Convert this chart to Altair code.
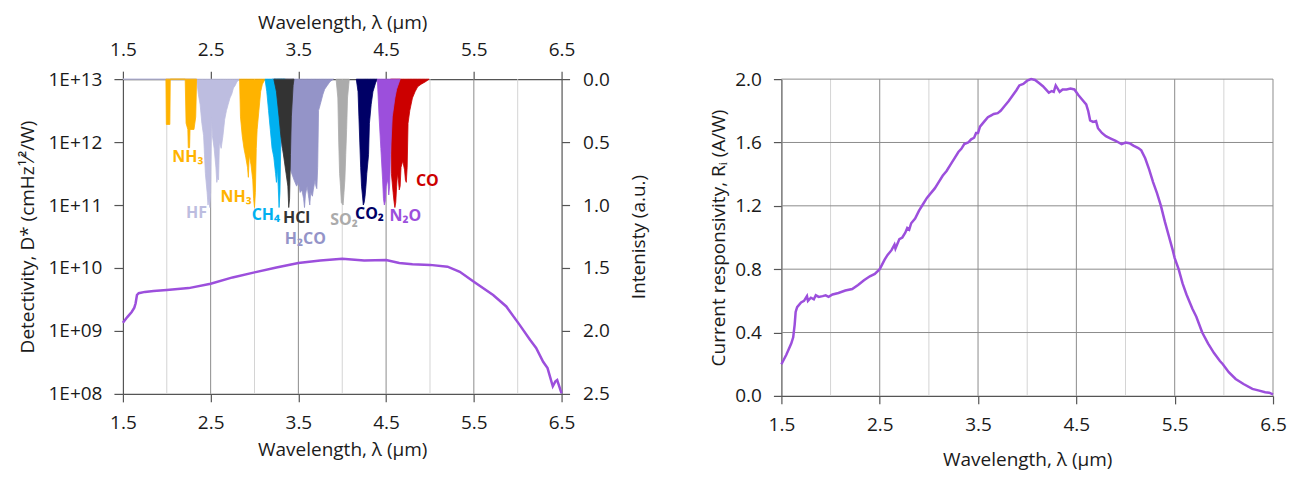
import altair as alt
import pandas as pd

FONT = "Open Sans"
PURPLE = "#9c4fdc"
DARK_GRID = "#8c8c8c"
LIGHT_GRID = "#d4d4d4"
AXIS_COL = "#555555"
TEXT_COL = "#1a1a1a"

# ---------- axis ticks / grid ----------
TICKS_X = [1.5, 2.5, 3.5, 4.5, 5.5, 6.5]
GRID_DARK = [2.5, 3.5, 4.5, 5.5]
GRID_LIGHT = [2.0, 3.0, 4.0, 5.0, 6.0]
D_TICKS = [1e8, 1e9, 1e10, 1e11, 1e12, 1e13]
INT_TICKS = [0.0, 0.5, 1.0, 1.5, 2.0, 2.5]
R_TICKS = [0.0, 0.4, 0.8, 1.2, 1.6, 2.0]
RIGHT_EDGE = [6.5]

# ---------- detectivity D* (left panel) ----------
DET_LAM = [1.50, 1.55, 1.60, 1.63, 1.645, 1.66, 1.68, 1.75, 1.85, 2.00, 2.25, 2.50, 2.75,
           3.00, 3.25, 3.50, 3.75, 4.00, 4.25, 4.50, 4.65, 4.80, 5.00, 5.20, 5.34, 5.50,
           5.72, 5.87, 6.02, 6.14, 6.21, 6.29, 6.34, 6.40, 6.43, 6.45, 6.50]
DET_VAL = [1.35e9, 1.66e9, 2.0e9, 2.34e9, 2.75e9, 3.72e9, 3.98e9, 4.17e9, 4.32e9, 4.47e9,
           4.79e9, 5.62e9, 7.08e9, 8.51e9, 1.02e10, 1.20e10, 1.32e10, 1.40e10, 1.32e10,
           1.34e10, 1.20e10, 1.15e10, 1.12e10, 1.05e10, 8.71e9, 6.03e9, 3.72e9, 2.45e9,
           1.26e9, 7.24e8, 5.37e8, 3.24e8, 2.57e8, 1.32e8, 1.58e8, 1.66e8, 1.02e8]

# ---------- gas absorption spectra (wavelength, intensity) ----------
CO = [(4.55, 0), (4.56, 0.75), (4.58, 0.9), (4.59, 0.97), (4.60, 1.02), (4.61, 0.98),
      (4.62, 0.85), (4.63, 0.75), (4.64, 0.8), (4.65, 0.88), (4.66, 0.85), (4.67, 0.7),
      (4.69, 0.65), (4.71, 0.72), (4.72, 0.8), (4.73, 0.82), (4.74, 0.7), (4.75, 0.35),
      (4.77, 0.25), (4.80, 0.15), (4.83, 0.1), (4.86, 0.06), (4.90, 0.04), (4.95, 0.02),
      (4.99, 0)]
HF = [(1.5, 0), (2.34, 0), (2.36, 0.12), (2.38, 0.2), (2.40, 0.35), (2.42, 0.45), (2.43, 0.6),
      (2.44, 0.75), (2.46, 0.9), (2.47, 1.0), (2.48, 0.95), (2.49, 1.02), (2.50, 0.9),
      (2.51, 0.3), (2.52, 0.45), (2.54, 0.55), (2.56, 0.7), (2.57, 0.82), (2.58, 0.78),
      (2.59, 0.8), (2.60, 0.5), (2.62, 0.55), (2.64, 0.45), (2.66, 0.32), (2.68, 0.25),
      (2.70, 0.2), (2.72, 0.15), (2.74, 0.12), (2.76, 0.07), (2.78, 0.05), (2.80, 0.02),
      (2.83, 0)]
NH3_A = [(1.99, 0), (1.995, 0.36), (2.035, 0.36), (2.04, 0), (2.21, 0), (2.22, 0.35),
         (2.24, 0.4), (2.245, 0.545), (2.26, 0.545), (2.265, 0.4), (2.31, 0.4), (2.33, 0.3),
         (2.34, 0)]
NH3_B = [(2.83, 0), (2.84, 0.3), (2.86, 0.45), (2.88, 0.55), (2.90, 0.62), (2.92, 0.7),
         (2.93, 0.78), (2.94, 0.6), (2.96, 0.68), (2.98, 0.8), (2.99, 0.95), (3.00, 1.02),
         (3.01, 0.9), (3.02, 0.55), (3.03, 0.4), (3.05, 0.25), (3.07, 0.1), (3.09, 0.04),
         (3.12, 0)]
H2CO = [(3.20, 0), (3.25, 0.3), (3.30, 0.5), (3.35, 0.65), (3.40, 0.7), (3.45, 0.8),
        (3.48, 0.85), (3.50, 0.82), (3.52, 0.9), (3.54, 0.88), (3.56, 0.95), (3.57, 1.02),
        (3.58, 0.92), (3.60, 0.85), (3.62, 0.95), (3.63, 1.0), (3.64, 0.9), (3.66, 0.93),
        (3.67, 0.88), (3.69, 0.8), (3.70, 0.85), (3.71, 0.87), (3.72, 0.7), (3.73, 0.25),
        (3.75, 0.2), (3.78, 0.12), (3.80, 0.08), (3.83, 0.05), (3.86, 0.02), (3.90, 0)]
CH4 = [(3.12, 0), (3.14, 0.1), (3.16, 0.25), (3.18, 0.4), (3.20, 0.55), (3.22, 0.62),
       (3.24, 0.75), (3.25, 0.82), (3.26, 0.7), (3.27, 0.85), (3.28, 1.02), (3.29, 0.9),
       (3.30, 0.5), (3.32, 0.2), (3.34, 0.05), (3.35, 0)]
HCL = [(3.22, 0), (3.25, 0.1), (3.28, 0.3), (3.30, 0.45), (3.32, 0.55), (3.34, 0.65),
       (3.36, 0.75), (3.38, 0.85), (3.39, 1.02), (3.40, 0.95), (3.41, 0.6), (3.42, 0.3),
       (3.44, 0.05), (3.45, 0)]
SO2 = [(3.93, 0), (3.95, 0.15), (3.96, 0.5), (3.97, 0.75), (3.98, 0.85), (3.99, 0.98),
       (4.01, 1.0), (4.02, 0.9), (4.03, 0.8), (4.04, 0.6), (4.05, 0.4), (4.06, 0.15),
       (4.08, 0)]
CO2 = [(4.16, 0), (4.18, 0.1), (4.19, 0.3), (4.20, 0.5), (4.21, 0.7), (4.22, 0.85),
       (4.23, 0.92), (4.24, 1.0), (4.25, 0.98), (4.26, 0.93), (4.27, 0.85), (4.28, 0.75),
       (4.30, 0.6), (4.31, 0.35), (4.33, 0.2), (4.35, 0.1), (4.38, 0.03), (4.40, 0)]
N2O = [(4.40, 0), (4.42, 0.3), (4.44, 0.55), (4.46, 0.8), (4.47, 0.95), (4.48, 1.0),
       (4.49, 0.97), (4.50, 0.85), (4.52, 0.8), (4.53, 0.92), (4.54, 0.85), (4.55, 0.6),
       (4.57, 0.3), (4.60, 0.15), (4.62, 0.08), (4.66, 0)]

GAS_SERIES = [("CO", CO, "#cc0000"), ("HF", HF, "#bdbde0"), ("NH3a", NH3_A, "#ffb300"),
              ("NH3b", NH3_B, "#ffb300"), ("H2CO", H2CO, "#9494c8"), ("CH4", CH4, "#00b0f0"),
              ("HCl", HCL, "#333333"), ("SO2", SO2, "#ababab"), ("CO2", CO2, "#000066"),
              ("N2O", N2O, "#9c4fdc")]

LABEL_TEXT = ["NH₃", "HF", "NH₃", "CH₄", "HCl", "H₂CO", "SO₂", "CO₂", "N₂O", "CO"]
LABEL_LAM = [2.24, 2.34, 2.79, 3.13, 3.48, 3.58, 4.02, 4.31, 4.72, 4.97]
LABEL_INT = [0.62, 1.06, 0.94, 1.08, 1.10, 1.27, 1.12, 1.07, 1.09, 0.81]
LABEL_COLOR = ["#ffb300", "#bdbde0", "#ffb300", "#00b0f0", "#333333", "#9494c8",
               "#ababab", "#000066", "#9c4fdc", "#cc0000"]

# ---------- current responsivity (right panel) ----------
RESP_LAM = [1.50, 1.55, 1.60, 1.62, 1.635, 1.645, 1.66, 1.70, 1.73, 1.76, 1.77, 1.80, 1.83,
            1.85, 1.88, 1.92, 1.95, 1.98, 2.02, 2.08, 2.15, 2.22, 2.28, 2.34, 2.40, 2.45,
            2.50, 2.55, 2.58, 2.62, 2.65, 2.66, 2.70, 2.73, 2.76, 2.78, 2.80, 2.82, 2.86,
            2.90, 2.94, 2.98, 3.02, 3.06, 3.10, 3.14, 3.18, 3.22, 3.26, 3.30, 3.33, 3.36,
            3.40, 3.43, 3.46, 3.48, 3.50, 3.52, 3.56, 3.60, 3.63, 3.66, 3.70, 3.73, 3.77,
            3.81, 3.85, 3.89, 3.92, 3.96, 4.00, 4.04, 4.08, 4.12, 4.16, 4.19, 4.22, 4.25,
            4.27, 4.29, 4.31, 4.33, 4.36, 4.40, 4.44, 4.48, 4.52, 4.56, 4.60, 4.62, 4.64,
            4.67, 4.70, 4.72, 4.76, 4.80, 4.85, 4.90, 4.93, 4.96, 5.00, 5.04, 5.08, 5.13,
            5.16, 5.20, 5.24, 5.28, 5.32, 5.36, 5.40, 5.44, 5.48, 5.50, 5.54, 5.58, 5.62,
            5.66, 5.68, 5.72, 5.78, 5.84, 5.90, 5.96, 5.99, 6.05, 6.12, 6.20, 6.29, 6.35,
            6.42, 6.46, 6.50]
RESP_VAL = [0.20, 0.26, 0.33, 0.37, 0.45, 0.53, 0.56, 0.59, 0.60, 0.63, 0.60, 0.62, 0.61,
            0.635, 0.625, 0.63, 0.635, 0.625, 0.64, 0.65, 0.665, 0.675, 0.70, 0.73, 0.755,
            0.77, 0.80, 0.86, 0.89, 0.92, 0.955, 0.93, 0.99, 1.00, 1.03, 1.06, 1.05, 1.09,
            1.12, 1.17, 1.21, 1.25, 1.28, 1.31, 1.35, 1.39, 1.42, 1.46, 1.50, 1.54, 1.56,
            1.59, 1.60, 1.62, 1.63, 1.66, 1.66, 1.70, 1.73, 1.76, 1.77, 1.78, 1.785, 1.80,
            1.83, 1.86, 1.895, 1.93, 1.96, 1.97, 1.99, 2.00, 1.995, 1.975, 1.955, 1.935,
            1.915, 1.925, 1.92, 1.96, 1.94, 1.92, 1.935, 1.935, 1.94, 1.935, 1.90, 1.87,
            1.84, 1.80, 1.74, 1.73, 1.735, 1.69, 1.66, 1.64, 1.625, 1.61, 1.60, 1.59, 1.60,
            1.595, 1.58, 1.565, 1.55, 1.50, 1.43, 1.35, 1.28, 1.20, 1.10, 1.01, 0.92, 0.87,
            0.80, 0.71, 0.64, 0.58, 0.55, 0.50, 0.40, 0.33, 0.27, 0.22, 0.20, 0.15, 0.107,
            0.075, 0.044, 0.035, 0.023, 0.02, 0.01]

LBL = 19  # tick label / title font size

# ================= LEFT PANEL =================
x_bottom = alt.X("lam:Q", scale=alt.Scale(domain=[1.5, 6.5], nice=False, zero=False),
                 axis=alt.Axis(values=TICKS_X, format=".1f", title="Wavelength, λ (µm)",
                               orient="bottom", grid=False, tickSize=8, labelPadding=12,
                               titlePadding=8, labelFlush=False))
x_top = alt.X("lam:Q", scale=alt.Scale(domain=[1.5, 6.5], nice=False, zero=False),
              axis=alt.Axis(values=TICKS_X, format=".1f", title="Wavelength, λ (µm)",
                            orient="top", grid=False, tickSize=8, labelPadding=12,
                            titlePadding=8, labelFlush=False))

grid_dark = alt.Chart(pd.DataFrame({"lam": GRID_DARK})).mark_rule(
    color=DARK_GRID, strokeWidth=1).encode(x=x_bottom)
grid_light = alt.Chart(pd.DataFrame({"lam": GRID_LIGHT})).mark_rule(
    color=LIGHT_GRID, strokeWidth=1).encode(x=x_bottom)
det_line = alt.Chart(pd.DataFrame({"lam": DET_LAM, "det": DET_VAL})).mark_line(
    color=PURPLE, strokeWidth=2.5).encode(
    x=x_bottom,
    y=alt.Y("det:Q", scale=alt.Scale(type="log", domain=[1e8, 1e13], nice=False),
            axis=alt.Axis(values=D_TICKS, orient="left", grid=False, tickSize=9,
                          labelPadding=12, titlePadding=10, labelFlush=False,
                          title="Detectivity, D* (cmHz¹⁄²/W)",
                          labelExpr="'1E+' + (datum.value < 1e10 ? '0' : '') + format(log(datum.value)/LN10, '.0f')")),
)
layer_a = alt.layer(grid_light, grid_dark, det_line)

y_int = alt.Y("inten:Q", scale=alt.Scale(domain=[0, 2.5], reverse=True, nice=False),
              axis=alt.Axis(values=INT_TICKS, format=".1f", orient="right", grid=False,
                            tickSize=8, labelPadding=13, titlePadding=39, titleAngle=270,
                            labelFlush=False, title="Intenisty (a.u.)"))
gas_layers = []
for name, pts, col in GAS_SERIES:
    df = pd.DataFrame({"lam": [p[0] for p in pts], "inten": [p[1] for p in pts]})
    gas_layers.append(alt.Chart(df).mark_area(color=col, stroke=col, strokeWidth=0.8,
                                              opacity=1, interpolate="linear")
                      .encode(x=x_top, y=y_int))
labels = alt.Chart(pd.DataFrame({"lam": LABEL_LAM, "inten": LABEL_INT, "txt": LABEL_TEXT,
                                 "col": LABEL_COLOR})).mark_text(
    font=FONT, fontSize=16, fontWeight="bold").encode(
    x=x_top, y=y_int, text="txt:N", color=alt.Color("col:N", scale=None))
layer_b = alt.layer(*gas_layers, labels)

left = alt.layer(layer_a, layer_b).resolve_scale(x="independent", y="independent").properties(
    width=439, height=315)

# ================= RIGHT PANEL =================
x_r = alt.X("lam:Q", scale=alt.Scale(domain=[1.5, 6.5], nice=False, zero=False),
            axis=alt.Axis(values=TICKS_X, format=".1f", title="Wavelength, λ (µm)",
                          grid=False, tickSize=8, labelPadding=12, titlePadding=16,
                          labelFlush=False))
y_r = alt.Y("resp:Q", scale=alt.Scale(domain=[0, 2.0], nice=False),
            axis=alt.Axis(values=R_TICKS, format=".1f", grid=False, tickSize=8,
                          labelPadding=12, titlePadding=6, labelFlush=False,
                          title="Current responsivity, Rᵢ (A/W)"))
r_vlight = alt.Chart(pd.DataFrame({"lam": GRID_LIGHT})).mark_rule(
    color=LIGHT_GRID, strokeWidth=1).encode(x=x_r)
r_vdark = alt.Chart(pd.DataFrame({"lam": GRID_DARK + RIGHT_EDGE})).mark_rule(
    color=DARK_GRID, strokeWidth=1).encode(x=x_r)
r_hdark = alt.Chart(pd.DataFrame({"resp": R_TICKS[1:]})).mark_rule(
    color=DARK_GRID, strokeWidth=1).encode(y=y_r)
r_line = alt.Chart(pd.DataFrame({"lam": RESP_LAM, "resp": RESP_VAL})).mark_line(
    color=PURPLE, strokeWidth=2.5).encode(x=x_r, y=y_r)
right = alt.layer(r_vlight, r_vdark, r_hdark, r_line).properties(width=492, height=317)

chart = alt.hconcat(left, right, spacing=220, bounds="flush").properties(
    padding={"left": 10, "top": 5, "right": 5, "bottom": 5}
).configure_view(stroke=None).configure_axis(
    labelFont=FONT, titleFont=FONT, labelFontSize=LBL, titleFontSize=LBL,
    titleFontWeight="normal", labelColor=TEXT_COL, titleColor=TEXT_COL,
    domainColor=AXIS_COL, tickColor=AXIS_COL, domainWidth=1.2, tickWidth=1.2,
)

chart.save("out.html", embed_options={"renderer": "svg", "actions": False})
